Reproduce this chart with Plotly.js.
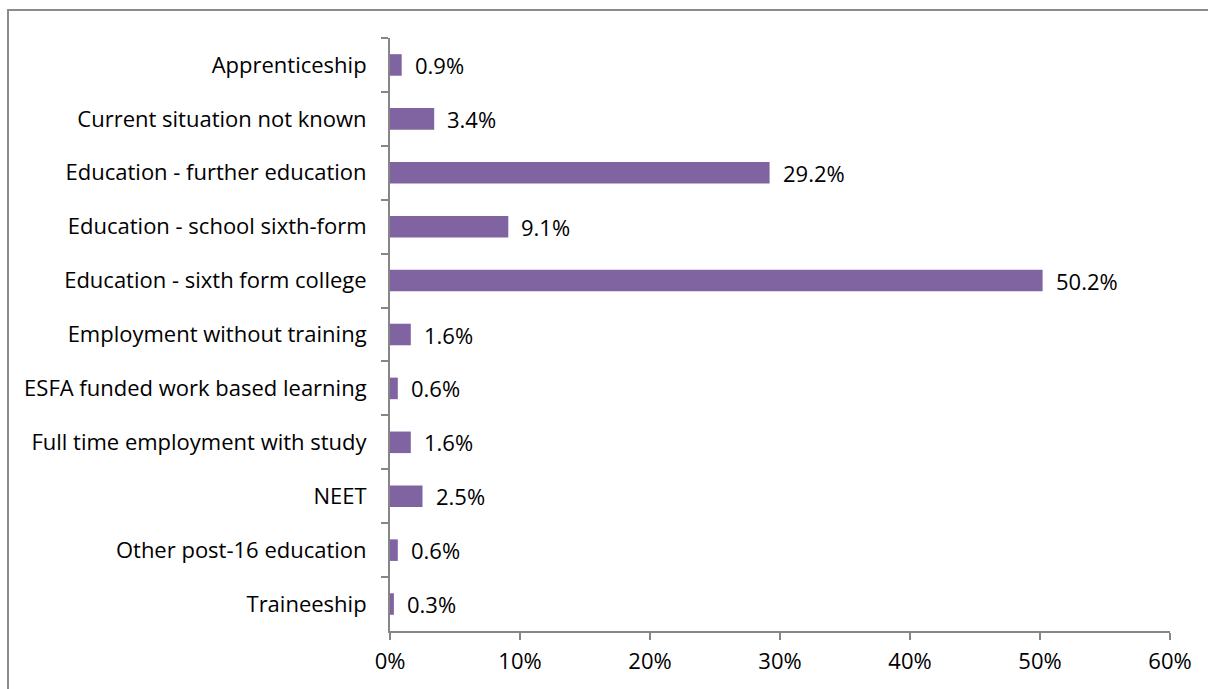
<!DOCTYPE html>
<html>
<head>
<meta charset="utf-8">
<script src="https://cdn.plot.ly/plotly-3.0.1.min.js"></script>
<style>
html,body{margin:0;padding:0;background:#fff;}
#wrap{position:relative;width:1208px;height:689px;overflow:hidden;}
#frame{position:absolute;left:7px;top:9px;width:1220px;height:700px;border:2px solid #8c8c8c;box-sizing:border-box;pointer-events:none;}
#chart{position:absolute;left:0;top:0;width:1208px;height:689px;}
</style>
</head>
<body>
<div id="wrap">
<div id="chart"></div>
<div id="frame"></div>
</div>
<script>
const categories = [
  "Apprenticeship",
  "Current situation not known",
  "Education - further education",
  "Education - school sixth-form",
  "Education - sixth form college",
  "Employment without training",
  "ESFA funded work based learning",
  "Full time employment with study",
  "NEET",
  "Other post-16 education",
  "Traineeship"
];
const values = [0.009, 0.034, 0.292, 0.091, 0.502, 0.016, 0.006, 0.016, 0.025, 0.006, 0.003];
const tickVals = [0, 0.1, 0.2, 0.3, 0.4, 0.5, 0.6];
const tickText = ["0%", "10%", "20%", "30%", "40%", "50%", "60%"];

const FONT = "'Open Sans', 'Noto Sans', sans-serif";
const FS = 22;
const txtColor = "#000000";

const annotations = categories.map((c, i) => ({
  x: values[i], y: c, xref: "x", yref: "y",
  text: (values[i] * 100).toFixed(1) + "%",
  showarrow: false, xanchor: "left", yanchor: "middle", xshift: 11,
  font: {family: FONT, size: FS, color: txtColor}
}));

const trace = {
  type: "bar", orientation: "h",
  x: values, y: categories,
  marker: {color: "#8064A2", line: {width: 0}},
  width: 0.4,
  hoverinfo: "skip"
};

const layout = {
  width: 1208, height: 689,
  margin: {l: 390, r: 38, t: 38, b: 58, pad: 0},
  paper_bgcolor: "rgba(0,0,0,0)", plot_bgcolor: "rgba(0,0,0,0)",
  showlegend: false,
  font: {family: FONT, size: FS, color: txtColor},
  xaxis: {
    range: [0, 0.6], tickvals: tickVals, ticktext: tickText,
    showgrid: false, zeroline: false,
    showline: true, linecolor: "#868686", linewidth: 2,
    ticks: "outside", ticklen: 7, tickwidth: 2, tickcolor: "#868686",
    ticklabelstandoff: 3,
    tickfont: {family: FONT, size: FS, color: txtColor},
    fixedrange: true
  },
  yaxis: {
    type: "category", categoryorder: "array", categoryarray: categories,
    autorange: "reversed",
    showgrid: false, zeroline: false,
    showline: true, linecolor: "#868686", linewidth: 2,
    ticks: "outside", ticklen: 7, tickwidth: 2, tickcolor: "#868686",
    tickson: "boundaries",
    ticklabelstandoff: 17,
    tickfont: {family: FONT, size: FS, color: txtColor},
    fixedrange: true
  },
  annotations: annotations
};

Plotly.newPlot("chart", [trace], layout, {displayModeBar: false, staticPlot: true});
</script>
</body>
</html>
